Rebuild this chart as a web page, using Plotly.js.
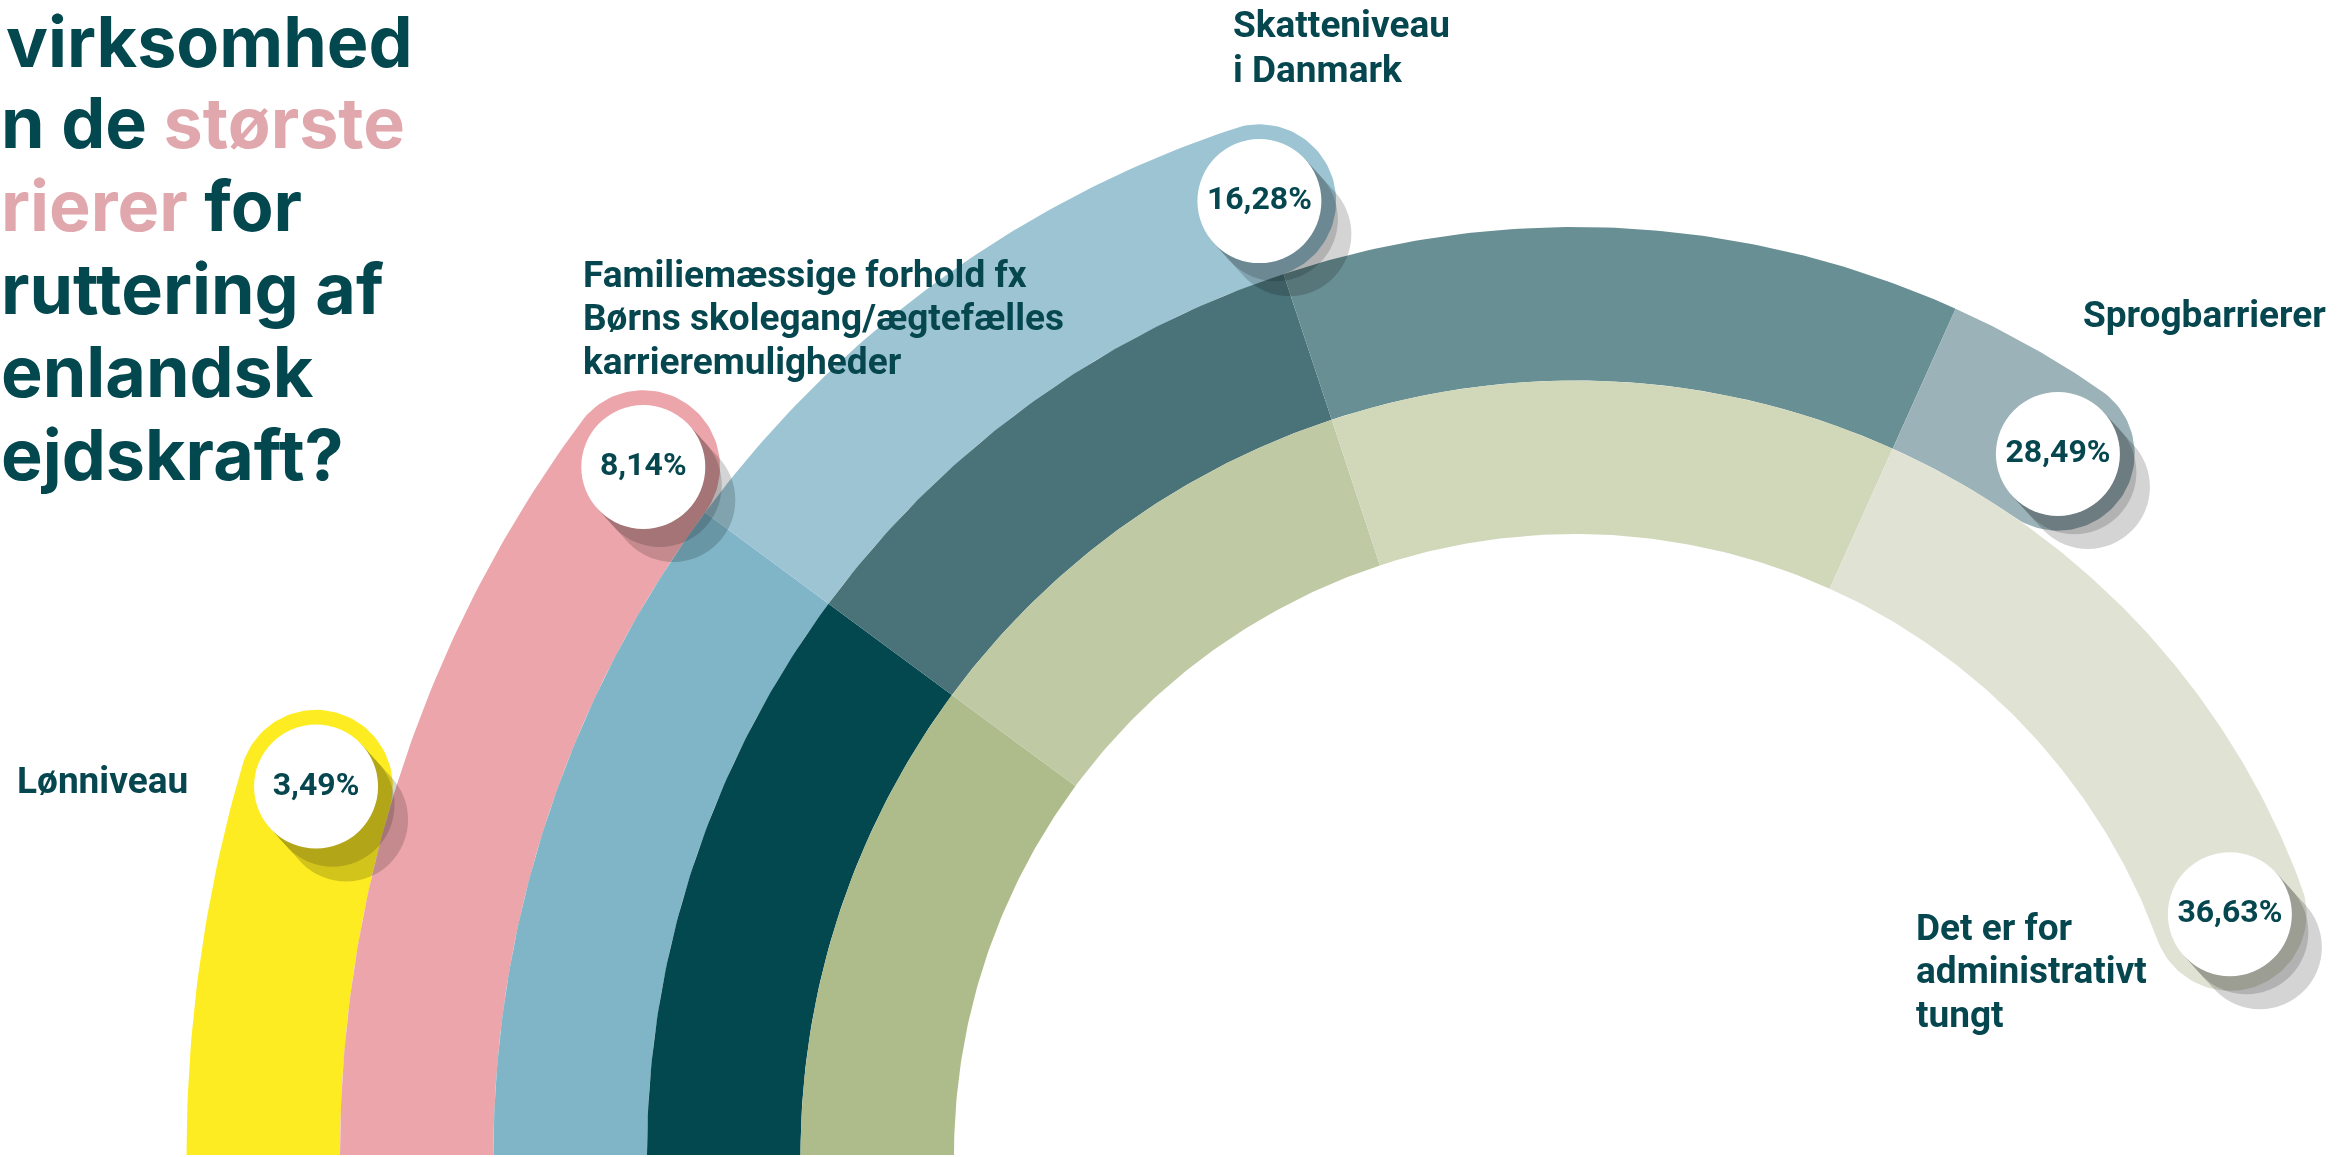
<!DOCTYPE html>
<html>
<head>
<meta charset="utf-8">
<script src="https://cdn.plot.ly/plotly-3.0.1.min.js"></script>
<style>
html,body{margin:0;padding:0;background:#fff;overflow:hidden}
#chart{width:2348px;height:1157px}
</style>
</head>
<body>
<div id="chart"></div>
<script>
// ---------------- data ----------------
const categories = [
  'Lønniveau',
  'Familiemæssige forhold fx Børns skolegang/ægtefælles karrieremuligheder',
  'Skatteniveau i Danmark',
  'Sprogbarrierer',
  'Det er for administrativt tungt'
];
const values = [3.49, 8.14, 16.28, 28.49, 36.63];
const labelLines = [
  ['Lønniveau'],
  ['Familiemæssige forhold fx', 'Børns skolegang/ægtefælles', 'karrieremuligheder'],
  ['Skatteniveau', 'i Danmark'],
  ['Sprogbarrierer'],
  ['Det er for', 'administrativt', 'tungt']
];
const toneBreaks = [8.14, 16.28, 26.1];
const titleLines = [
  'virksomhed',
  'n de <span style="color:#E0A8AD">største</span>',
  '<span style="color:#E0A8AD">rierer</span> for',
  'ruttering af',
  'enlandsk',
  'ejdskraft?'
];

// ---------------- style / layout ----------------
const W = 2348, H = 1157;
const CX = 1575, CY = 1155;
const R0 = 621, BAND = 153.5;
const DEG0 = 1.2, DEG_PER = 4.33;
const BUBBLE = 124;
const INK = '#06474F';
const bandTones = [
  ['#FEEC22'],
  ['#ECA6AB'],
  ['#7FB5C7', '#9CC4D3'],
  ['#03474F', '#4A7379', '#688F93', '#9BB3B8'],
  ['#AEBB8A', '#BFC9A4', '#D1D8BA', '#E0E3D4']
];
const labelPos = [
  {x: 15, y: 780, dy: 43.5},
  {x: 581, y: 274, dy: 43.5},
  {x: 1231, y: 24, dy: 45},
  {x: 2081, y: 314, dy: 43.5},
  {x: 1914, y: 927, dy: 43.5}
];
const titleLeft = [5, 0, 0, 0, 0, 0];
const titleBase = [67, 148, 231, 314, 397, 480];
const TITLE_SIZE = 70;

const N = values.length;
const ang = v => DEG0 + DEG_PER * v;
function pt(r, deg) {
  const a = deg * Math.PI / 180;
  return [CX - r * Math.cos(a), CY - r * Math.sin(a)];
}

const traces = [];
const capX = [], capY = [];
values.forEach((v, i) => {
  const rIn = R0 + (N - 1 - i) * BAND, rOut = rIn + BAND, rMid = rIn + BAND / 2;
  const stops = [0, ...toneBreaks.filter(b => b < v), v];
  for (let s = 0; s < stops.length - 1; s++) {
    const a1 = s === 0 ? 0 : ang(stops[s]);
    const a2 = ang(stops[s + 1]);
    const isLast = s === stops.length - 2;
    const xs = [], ys = [];
    const n = Math.max(2, Math.ceil((a2 - a1) / 0.5));
    for (let k = 0; k <= n; k++) {
      const p = pt(rOut, a1 + (a2 - a1) * k / n); xs.push(p[0]); ys.push(p[1]);
    }
    if (isLast) {
      const c = pt(rMid, a2);
      const a = a2 * Math.PI / 180;
      const U = [-Math.cos(a), -Math.sin(a)], T = [Math.sin(a), -Math.cos(a)];
      const h = BAND / 2;
      for (let k = 1; k < 60; k++) {
        const f = Math.PI * k / 60;
        xs.push(c[0] + h * (U[0] * Math.cos(f) + T[0] * Math.sin(f)));
        ys.push(c[1] + h * (U[1] * Math.cos(f) + T[1] * Math.sin(f)));
      }
      capX.push(c[0]); capY.push(c[1]);
    }
    for (let k = n; k >= 0; k--) {
      const p = pt(rIn, a1 + (a2 - a1) * k / n); xs.push(p[0]); ys.push(p[1]);
    }
    const col = bandTones[i][s];
    traces.push({type: 'scatter', mode: 'lines', x: xs, y: ys, fill: 'toself',
      fillcolor: col, line: {width: 0, color: col}, hoverinfo: 'skip'});
  }
});

// shadows (swept circle behind each bubble)
function shadowTrace(ts, op) {
  const sx = [], sy = [];
  capX.forEach((x, i) => ts.forEach(t => { sx.push(x + 30 * t); sy.push(capY[i] + 33 * t); }));
  return {type: 'scatter', mode: 'markers', x: sx, y: sy, opacity: op,
    marker: {size: BUBBLE, color: '#000', line: {width: 0}}, hoverinfo: 'skip'};
}
traces.push(shadowTrace([0.1, 0.25, 0.4, 0.55, 0.7, 0.85, 1.0], 0.17));
traces.push(shadowTrace([0.1, 0.25, 0.4, 0.55], 0.16));

// bubbles with value labels
traces.push({type: 'scatter', mode: 'markers+text', x: capX, y: capY,
  marker: {size: BUBBLE, color: '#FFFFFF', line: {width: 0}},
  text: values.map(v => v.toFixed(2).replace('.', ',') + '%'),
  textposition: 'middle center',
  textfont: {family: 'Roboto', size: 32, color: INK, weight: 700},
  hoverinfo: 'skip'});

const annotations = [];
labelLines.forEach((lines, i) => {
  lines.forEach((t, j) => annotations.push({
    x: labelPos[i].x, y: labelPos[i].y + j * labelPos[i].dy, xref: 'x', yref: 'y',
    text: t, showarrow: false, xanchor: 'left', yanchor: 'middle',
    font: {family: 'Roboto', size: 37, color: INK, weight: 700}
  }));
});
titleLines.forEach((t, j) => annotations.push({
  x: titleLeft[j], y: titleBase[j] - 0.363 * TITLE_SIZE, xref: 'x', yref: 'y',
  text: t, showarrow: false, xanchor: 'left', yanchor: 'middle', borderpad: 0,
  font: {family: 'Inter', size: TITLE_SIZE, color: '#03474F', weight: 700}
}));

const layout = {
  width: W, height: H, margin: {l: 0, r: 0, t: 0, b: 0, pad: 0},
  paper_bgcolor: '#FFFFFF', plot_bgcolor: '#FFFFFF',
  showlegend: false, hovermode: false,
  xaxis: {range: [0, W], visible: false, fixedrange: true},
  yaxis: {range: [H, 0], visible: false, fixedrange: true},
  annotations: annotations
};
Plotly.newPlot('chart', traces, layout, {displayModeBar: false, staticPlot: true});
</script>
</body>
</html>
